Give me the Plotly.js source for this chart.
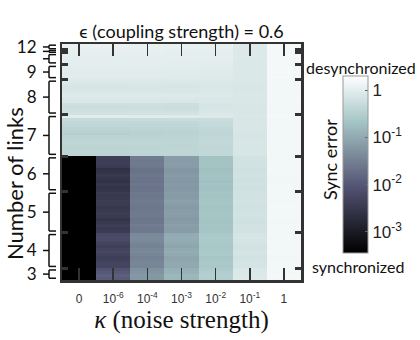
<!DOCTYPE html>
<html>
<head>
<meta charset="utf-8">
<script src="https://cdn.plot.ly/plotly-3.0.1.min.js"></script>
<style>html,body{margin:0;padding:0;background:#fff;}#chart{width:420px;height:340px;}</style>
</head>
<body>
<div id="chart"></div>
<script>
// Noise strength categories (columns)
const kappaLabels = ['0', '10<sup>-6</sup>', '10<sup>-4</sup>', '10<sup>-3</sup>', '10<sup>-2</sup>', '10<sup>-1</sup>', '1'];
// Groups of networks by number of links (bottom to top)
const groupLinks = [3, 4, 5, 6, 7, 8, 9, 10, 11, 12];
const groupRows = [4, 12, 14, 12, 14, 12, 5, 4, 1, 2];
const groupLabels = ['3', '4', '5', '6', '7', '8', '9', '', '', '12'];
// Colorbar ticks (log10 of sync error)
const cbTickVals = [-3, -2, -1, 0];
const cbTickText = ['10<sup>-3</sup>', '10<sup>-2</sup>', '10<sup>-1</sup>', '1'];
// log10(sync error), one row per network, columns follow kappaLabels
const syncErrorLog = [
  // 3 links
  [-4.0,-1.95,-1.22,-0.84,-0.52,-0.07,0.17],
  [-4.0,-1.90,-1.20,-0.82,-0.50,-0.06,0.18],
  [-4.0,-2.00,-1.26,-0.88,-0.54,-0.09,0.16],
  [-4.0,-2.08,-1.30,-0.92,-0.57,-0.10,0.17],
  // 4 links
  [-4.0,-2.30,-1.45,-1.02,-0.62,-0.16,0.17],
  [-4.0,-2.28,-1.42,-1.00,-0.60,-0.15,0.16],
  [-4.0,-2.35,-1.46,-1.04,-0.63,-0.17,0.17],
  [-4.0,-2.40,-1.50,-1.06,-0.64,-0.18,0.15],
  [-4.0,-2.33,-1.44,-1.00,-0.61,-0.16,0.17],
  [-4.0,-2.25,-1.40,-0.98,-0.60,-0.15,0.18],
  [-4.0,-2.30,-1.43,-1.01,-0.62,-0.17,0.16],
  [-4.0,-2.38,-1.48,-1.05,-0.63,-0.18,0.17],
  [-4.0,-2.32,-1.45,-1.02,-0.62,-0.16,0.17],
  [-4.0,-2.22,-1.38,-0.98,-0.60,-0.15,0.16],
  [-4.0,-2.18,-1.36,-0.96,-0.59,-0.14,0.17],
  [-4.0,-2.24,-1.40,-0.99,-0.61,-0.15,0.17],
  // 5 links
  [-4.0,-2.45,-1.58,-1.15,-0.66,-0.18,0.17],
  [-4.0,-2.48,-1.60,-1.16,-0.67,-0.19,0.16],
  [-4.0,-2.42,-1.56,-1.13,-0.65,-0.18,0.17],
  [-4.0,-2.50,-1.62,-1.18,-0.68,-0.20,0.15],
  [-4.0,-2.55,-1.64,-1.20,-0.69,-0.20,0.17],
  [-4.0,-2.47,-1.60,-1.16,-0.67,-0.18,0.17],
  [-4.0,-2.44,-1.58,-1.14,-0.66,-0.17,0.16],
  [-4.0,-2.49,-1.61,-1.17,-0.67,-0.19,0.17],
  [-4.0,-2.52,-1.63,-1.19,-0.68,-0.20,0.18],
  [-4.0,-2.46,-1.59,-1.15,-0.66,-0.18,0.17],
  [-4.0,-2.43,-1.57,-1.12,-0.65,-0.17,0.16],
  [-4.0,-2.48,-1.60,-1.17,-0.67,-0.19,0.17],
  [-4.0,-2.51,-1.62,-1.18,-0.68,-0.19,0.17],
  [-4.0,-2.46,-1.59,-1.15,-0.66,-0.18,0.16],
  // 6 links
  [-4.0,-2.55,-1.65,-1.20,-0.70,-0.20,0.16],
  [-4.0,-2.58,-1.66,-1.22,-0.71,-0.21,0.17],
  [-4.0,-2.52,-1.63,-1.19,-0.69,-0.19,0.16],
  [-4.0,-2.60,-1.67,-1.23,-0.72,-0.21,0.15],
  [-4.0,-2.56,-1.65,-1.21,-0.70,-0.20,0.17],
  [-4.0,-2.50,-1.62,-1.18,-0.69,-0.19,0.16],
  [-4.0,-2.57,-1.66,-1.22,-0.71,-0.20,0.16],
  [-4.0,-2.62,-1.68,-1.24,-0.72,-0.21,0.17],
  [-4.0,-2.45,-1.60,-1.17,-0.68,-0.19,0.16],
  [-4.0,-2.40,-1.58,-1.15,-0.68,-0.18,0.17],
  [-4.0,-2.42,-1.59,-1.16,-0.69,-0.19,0.16],
  [-4.0,-2.38,-1.57,-1.15,-0.68,-0.18,0.17],
  // 7 links
  [-0.42,-0.42,-0.41,-0.40,-0.36,-0.14,0.17],
  [-0.40,-0.40,-0.40,-0.39,-0.35,-0.13,0.16],
  [-0.43,-0.43,-0.42,-0.41,-0.37,-0.14,0.17],
  [-0.41,-0.41,-0.41,-0.40,-0.35,-0.13,0.17],
  [-0.39,-0.39,-0.39,-0.38,-0.34,-0.12,0.16],
  [-0.42,-0.42,-0.41,-0.40,-0.36,-0.13,0.17],
  [-0.44,-0.44,-0.43,-0.42,-0.37,-0.14,0.17],
  [-0.48,-0.48,-0.46,-0.45,-0.38,-0.14,0.16],
  [-0.46,-0.46,-0.45,-0.44,-0.37,-0.13,0.17],
  [-0.42,-0.42,-0.41,-0.41,-0.35,-0.12,0.17],
  [-0.38,-0.38,-0.38,-0.37,-0.33,-0.12,0.16],
  [-0.36,-0.36,-0.36,-0.35,-0.32,-0.11,0.17],
  [-0.30,-0.30,-0.30,-0.29,-0.27,-0.11,0.17],
  [-0.02,-0.02,-0.03,-0.04,-0.06,-0.10,0.18],
  // 8 links
  [-0.18,-0.18,-0.18,-0.19,-0.10,-0.11,0.17],
  [-0.22,-0.22,-0.22,-0.23,-0.12,-0.11,0.17],
  [-0.26,-0.26,-0.25,-0.26,-0.14,-0.12,0.16],
  [-0.24,-0.24,-0.24,-0.25,-0.13,-0.11,0.17],
  [-0.10,-0.10,-0.10,-0.11,-0.09,-0.10,0.17],
  [-0.08,-0.08,-0.08,-0.09,-0.08,-0.10,0.18],
  [-0.04,-0.04,-0.04,-0.05,-0.06,-0.10,0.17],
  [-0.09,-0.09,-0.09,-0.10,-0.08,-0.10,0.17],
  [-0.11,-0.11,-0.11,-0.12,-0.09,-0.11,0.17],
  [-0.13,-0.13,-0.12,-0.13,-0.10,-0.11,0.16],
  [-0.08,-0.08,-0.08,-0.09,-0.08,-0.10,0.17],
  [-0.06,-0.06,-0.06,-0.07,-0.07,-0.10,0.17],
  // 9 links
  [-0.03,-0.03,-0.03,-0.04,-0.05,-0.09,0.18],
  [-0.02,-0.02,-0.02,-0.03,-0.05,-0.09,0.17],
  [-0.03,-0.03,-0.03,-0.03,-0.04,-0.09,0.18],
  [-0.01,-0.01,-0.01,-0.02,-0.03,-0.08,0.18],
  [0.00,0.00,0.00,-0.01,-0.02,-0.08,0.18],
  // 10 links
  [0.01,0.01,0.01,0.00,0.00,-0.08,0.18],
  [0.02,0.02,0.02,0.01,0.01,-0.07,0.18],
  [0.02,0.02,0.01,0.01,0.01,-0.07,0.19],
  [0.03,0.03,0.03,0.02,0.02,-0.07,0.18],
  // 11 links
  [0.04,0.04,0.04,0.03,0.03,-0.06,0.19],
  // 12 links
  [0.05,0.05,0.05,0.04,0.04,-0.06,0.19],
  [0.06,0.06,0.05,0.05,0.05,-0.05,0.19]
];

const nRows = syncErrorLog.length;
const xIdx = kappaLabels.map((_, i) => i);
const yIdx = syncErrorLog.map((_, i) => i);

// group starts, centers, boundaries
const starts = [];
let acc = 0;
groupRows.forEach(n => { starts.push(acc); acc += n; });
const centers = starts.map((s, i) => s + (groupRows[i] - 1) / 2);
const boundaries = starts.slice(1).map(s => s - 0.5);

const bone = [
  [0, 'rgb(0,0,0)'],
  [0.365, 'rgb(81,81,113)'],
  [0.746, 'rgb(166,198,198)'],
  [1, 'rgb(255,255,255)']
];

const trace = {
  type: 'heatmap',
  x: xIdx, y: yIdx, z: syncErrorLog,
  colorscale: bone, zmin: -3.45, zmax: 0.3, zauto: false,
  hoverinfo: 'skip',
  colorbar: {
    x: 1.176, xanchor: 'left', xref: 'paper',
    y: 0.489, yanchor: 'middle',
    len: 177, lenmode: 'pixels',
    thickness: 25, thicknessmode: 'pixels',
    outlinewidth: 1, outlinecolor: '#999',
    tickvals: cbTickVals, ticktext: cbTickText,
    ticks: 'inside', ticklen: 3, tickcolor: '#666',
    tickfont: {family: 'Liberation Sans, Arial, sans-serif', size: 17, color: '#222'},
    xpad: 0, ypad: 0
  }
};

// brackets
const shapes = [];
const bx = (px) => (px - 62) / 239;
const by = (py) => (280 - py) / 236;
groupRows.forEach((n, i) => {
  const inset = Math.min(0.6, n * 0.2);
  const y0 = starts[i] - 0.5 + inset;
  const y1 = starts[i] + n - 0.5 - inset;
  const line = {color: '#111', width: 1.5};
  shapes.push({type: 'line', xref: 'paper', yref: 'y', x0: bx(49), x1: bx(49), y0: y0, y1: y1, line});
  shapes.push({type: 'line', xref: 'paper', yref: 'y', x0: bx(49), x1: bx(56), y0: y0, y1: y0, line});
  shapes.push({type: 'line', xref: 'paper', yref: 'y', x0: bx(49), x1: bx(56), y0: y1, y1: y1, line});
  shapes.push({type: 'line', xref: 'paper', yref: 'y', x0: bx(43), x1: bx(49), y0: centers[i], y1: centers[i], line});
});

const ann = (text, px, py, size, angle) => ({
  text: text, xref: 'paper', yref: 'paper', x: bx(px), y: by(py),
  xanchor: 'center', yanchor: 'middle', showarrow: false, textangle: angle || 0,
  font: {family: 'Lato, sans-serif', size: size, color: '#111'}
});

const layout = {
  width: 420, height: 340,
  margin: {l: 62, r: 119, t: 44, b: 60, pad: 0},
  paper_bgcolor: '#fff', plot_bgcolor: '#fff',
  font: {family: 'Lato, sans-serif', color: '#111'},
  title: {text: 'ϵ (coupling strength) = 0.6', x: 0.5, xref: 'paper', xanchor: 'center',
          y: 1, yref: 'paper', yanchor: 'bottom', pad: {b: 6},
          font: {family: 'Lato, sans-serif', size: 18, color: '#111'}},
  xaxis: {
    range: [-0.5, 6.5], tickvals: xIdx, ticktext: kappaLabels,
    ticks: 'inside', ticklen: 12, tickwidth: 1.5, tickcolor: '#333',
    showline: true, linewidth: 2.5, linecolor: '#333', mirror: 'ticks',
    showgrid: false, zeroline: false, ticklabelstandoff: 6,
    tickfont: {family: 'Liberation Sans, Arial, sans-serif', size: 12, color: '#333'},
    title: {text: '<i>κ</i> (noise strength)', standoff: 4,
            font: {family: 'Liberation Serif, serif', size: 25, color: '#111'}}
  },
  yaxis: {
    range: [-0.5, nRows - 0.5], tickvals: boundaries, showticklabels: false,
    ticks: 'inside', ticklen: 6, tickwidth: 3, tickcolor: '#333',
    showline: true, linewidth: 2.5, linecolor: '#333', mirror: 'ticks',
    showgrid: false, zeroline: false
  },
  yaxis2: {
    overlaying: 'y', side: 'left', anchor: 'x',
    range: [-0.5, nRows - 0.5], tickvals: centers, ticktext: groupLabels,
    ticks: 'outside', ticklen: 21, tickcolor: 'rgba(0,0,0,0)',
    showline: false, showgrid: false, zeroline: false,
    tickfont: {family: 'Lato, sans-serif', size: 17, color: '#111'}
  },
  shapes: shapes,
  annotations: [
    ann('Number of links', 14, 184, 22, -90),
    ann('desynchronized', 361, 67, 16),
    ann('synchronized', 358, 266, 16),
    ann('Sync error', 330, 160, 18, -90)
  ]
};

// dummy trace on yaxis2 so it is drawn
const dummy = {type: 'scatter', x: [null], y: [null], yaxis: 'y2', showlegend: false, hoverinfo: 'skip'};

Plotly.newPlot('chart', [trace, dummy], layout, {displayModeBar: false, staticPlot: true});
</script>
</body>
</html>
